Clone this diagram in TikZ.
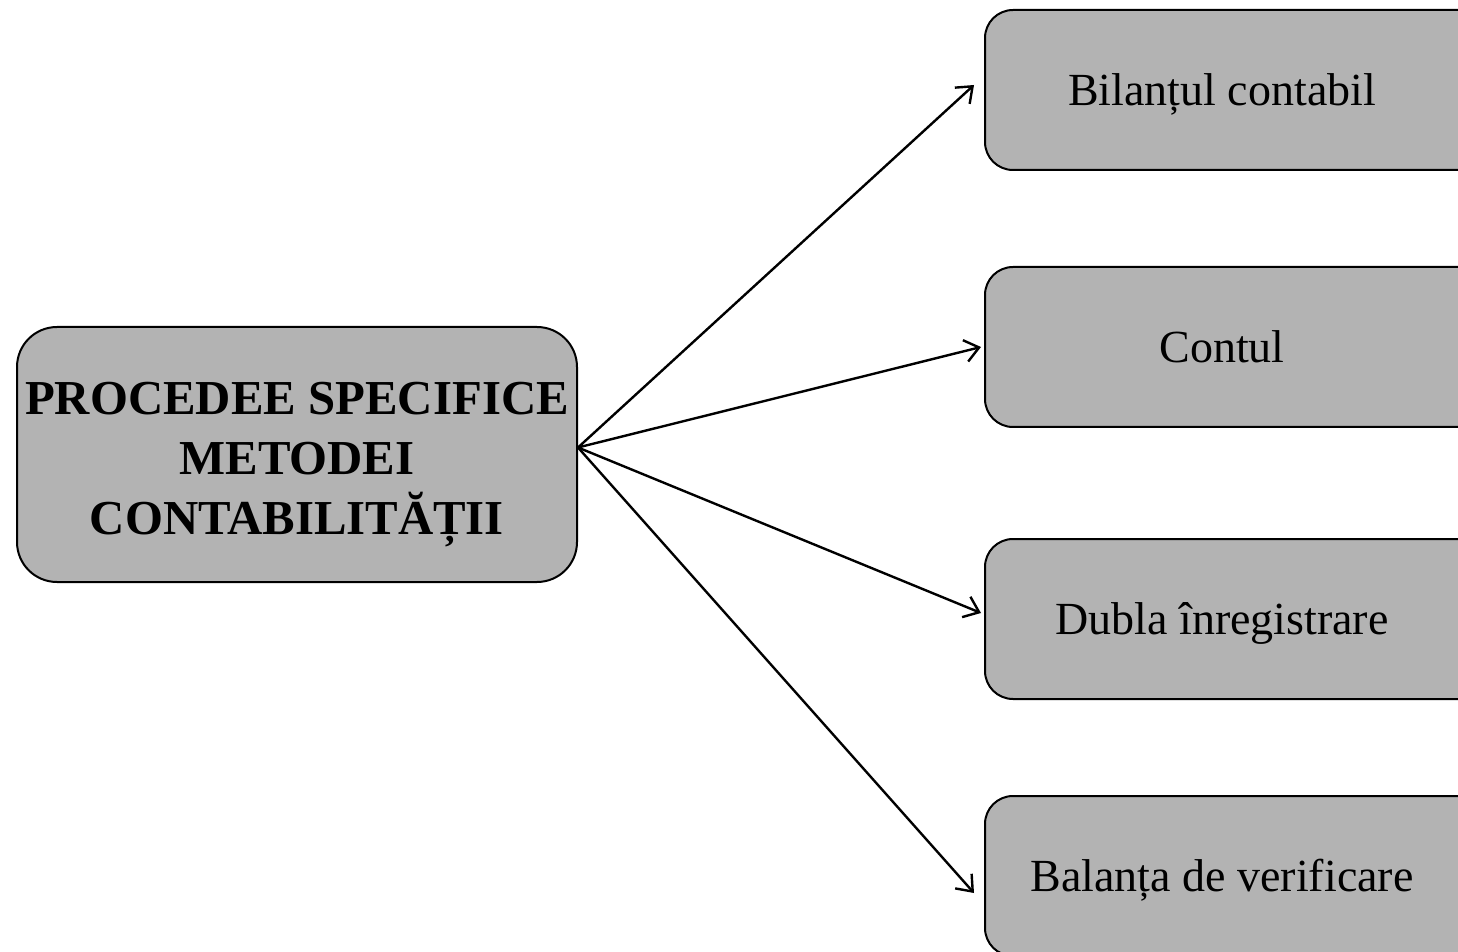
\documentclass[tikz,border=0pt]{standalone}
\usepackage{fontspec}
\setmainfont{Liberation Serif}
\usetikzlibrary{arrows.meta}
\definecolor{boxgray}{HTML}{B3B3B3}
\newcommand{\itemtxt}[1]{\raisebox{-7.8pt}[0pt][0pt]{#1}\hspace*{33pt}}
\tikzset{
  mainbox/.style={draw=black, line width=1pt, fill=boxgray, rounded corners=20pt,
    minimum width=280pt, minimum height=127.5pt, inner sep=0pt,
    font=\bfseries\fontsize{24.4}{30}\selectfont},
  itembox/.style={draw=black, line width=1pt, fill=boxgray, rounded corners=14pt,
    minimum width=270pt, minimum height=80pt, inner sep=0pt,
    font=\fontsize{23}{27}\selectfont},
  conn/.style={draw=black, line width=1.2pt, -{Straight Barb[length=7pt,width=11pt,line width=1.2pt]}}
}
\begin{document}
\begin{tikzpicture}[x=0.5pt,y=-0.5pt]
\useasboundingbox (0,0) rectangle (1458,952);
\clip (0,0) rectangle (1458,952);
\node[mainbox] (c) at (297,454.5) {\raisebox{-10.25pt}[0pt][0pt]{\begin{tabular}{@{}c@{}}PROCEDEE SPECIFICE\\METODEI\\CONTABILITĂȚII\end{tabular}}};
\node[itembox] (b1) at (1255,90) {\itemtxt{Bilanțul contabil}};
\node[itembox] (b2) at (1255,347) {\itemtxt{Contul}};
\node[itembox] (b3) at (1255,619) {\itemtxt{Dubla înregistrare}};
\node[itembox] (b4) at (1255,876) {\itemtxt{Balanța de verificare}};
\coordinate (s) at ([yshift=3.5pt]c.east);
\draw[conn] (s) -- ([xshift=-5pt,yshift=2.5pt]b1.west);
\draw[conn] (s) -- ([xshift=-1.5pt]b2.west);
\draw[conn] (s) -- ([xshift=-1.5pt,yshift=3pt]b3.west);
\draw[conn] (s) -- ([xshift=-5pt,yshift=-8.5pt]b4.west);
\end{tikzpicture}
\end{document}
